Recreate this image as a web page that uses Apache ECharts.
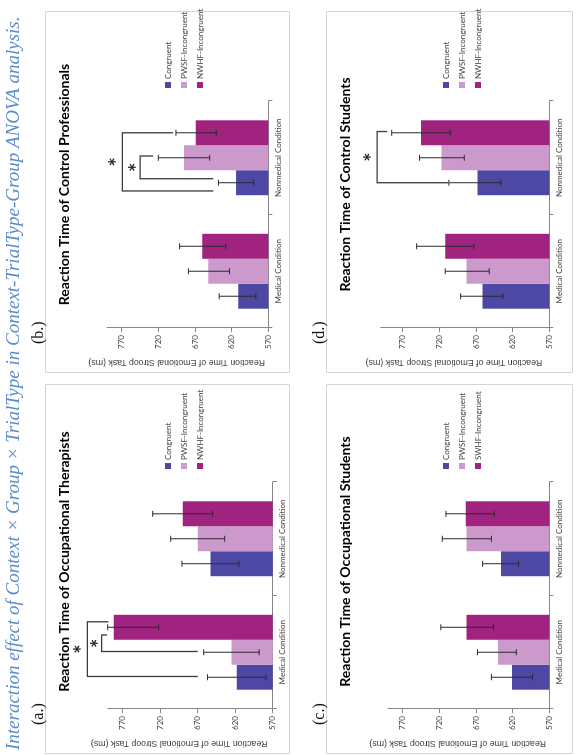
<!DOCTYPE html>
<html><head><meta charset="utf-8">
<script src="https://cdn.jsdelivr.net/npm/echarts@6/dist/echarts.min.js"></script>
<style>
html,body{margin:0;padding:0;background:#fff;overflow:hidden;width:579px;height:755px}
#page{position:absolute;left:0;top:0;width:755px;height:579px;transform-origin:0 0;transform:translate(0px,755px) rotate(-90deg);background:#fff}
</style></head><body><div id="page"></div>
<script>
// ---------------- data ----------------
const categories = ['Medical Condition', 'Nonmedical Condition'];
const namesStd = ['Congruent', 'PWSF-Incongruent', 'NWHF-Incongruent'];
const namesC = ['Congruent', 'PWSF-Incongruent', 'SWHF-Incongruent'];
const valueTicks = [570, 620, 670, 720, 770];
const axisMin = 570;
const axisMax = [790, 790, 790, 800];
const panelTitles = [
  'Reaction Time of Occupational Therapists',
  'Reaction Time of Control Professionals',
  'Reaction Time of Occupational Students',
  'Reaction Time of Control Students'
];
const panelLabels = ['(a.)', '(b.)', '(c.)', '(d.)'];
const yAxisTitle = 'Reaction Time of Emotional Stroop Task (ms)';
const captionText = 'Interaction effect of Context \u00d7 Group \u00d7 TrialType in Context-TrialType-Group ANOVA analysis.';

// (a.) Occupational Therapists
const aCongruent = [618, 653];
const aPwsf = [625, 670];
const aNwhf = [782, 690];
const aCongruentErr = [[579, 657], [615, 691]];
const aPwsfErr = [[588, 662], [634, 706]];
const aNwhfErr = [[722, 790], [650, 730]];
// (b.) Control Professionals
const bCongruent = [611, 614];
const bPwsf = [652, 685];
const bNwhf = [660, 669];
const bCongruentErr = [[587, 637], [590, 638]];
const bPwsfErr = [[623, 679], [650, 720]];
const bNwhfErr = [[628, 691], [641, 696]];
// (c.) Occupational Students
const cCongruent = [621, 636];
const cPwsf = [640, 683];
const cSwhf = [683, 684];
const cCongruentErr = [[593, 649], [612, 661]];
const cPwsfErr = [[615, 668], [649, 716]];
const cSwhfErr = [[646, 718], [645, 711]];
// (d.) Control Students
const dCongruent = [661, 668];
const dPwsf = [683, 717];
const dNwhf = [712, 745];
const dCongruentErr = [[633, 691], [636, 707]];
const dPwsfErr = [[652, 712], [686, 747]];
const dNwhfErr = [[673, 751], [705, 785]];

// significance brackets: [category, barA, offsetA, endA, barB, offsetB, endB, level, starValue]
const aBrackets = [[0, 2, 0.22, 789, 0, 0.03, 670, 817, 828], [0, 2, -0.31, 791, 1, 0.03, 670, 798, 806]];
const bBrackets = [[1, 2, 0.0, 700, 0, -0.33, 645, 769, 780], [1, 1, 0.07, 727, 0, 0.16, 645, 745, 754]];
const cBrackets = [];
const dBrackets = [[1, 2, 0.05, 791, 0, 0.0, 708, 805, 816]];

// ---------------- layout / style ----------------
const COLORS = ['#4e48a5', '#cc99cc', '#a0237f'];
const CAT_GAP = 0.34;
const BOX = [
  {u: 1, v: 45, w: 369, h: 244},
  {u: 382, v: 45, w: 361, h: 244},
  {u: 1, v: 326, w: 369, h: 246},
  {u: 382, v: 326, w: 361, h: 246}
];
// per panel: pixel offset of the 570 baseline from the box top, and px per unit
const PLOT = [
  {bottom: 227.7, scale: 0.75},
  {bottom: 223.3, scale: 0.733},
  {bottom: 223.3, scale: 0.733},
  {bottom: 223.3, scale: 0.733}
];
const GRID_LEFT = 45, GRID_WIDTH = 227;
const FONT = 'Lato, "Open Sans", sans-serif';

const panels = [
  {names: namesStd, means: [aCongruent, aPwsf, aNwhf], errs: [aCongruentErr, aPwsfErr, aNwhfErr], brackets: aBrackets},
  {names: namesStd, means: [bCongruent, bPwsf, bNwhf], errs: [bCongruentErr, bPwsfErr, bNwhfErr], brackets: bBrackets},
  {names: namesC, means: [cCongruent, cPwsf, cSwhf], errs: [cCongruentErr, cPwsfErr, cSwhfErr], brackets: cBrackets},
  {names: namesStd, means: [dCongruent, dPwsf, dNwhf], errs: [dCongruentErr, dPwsfErr, dNwhfErr], brackets: dBrackets}
];

function barCenter(api, cat, idx, off) {
  const band = api.size([1, 0])[0];
  const bw = band * (1 - CAT_GAP) / 3;
  const c = api.coord([cat, axisMin]);
  return c[0] - 1.5 * bw + (idx + 0.5 + (off || 0)) * bw;
}
function renderErr(params, api) {
  const cat = api.value(0), idx = api.value(1);
  const x = barCenter(api, cat, idx, 0);
  const yLo = api.coord([cat, api.value(2)])[1];
  const yHi = api.coord([cat, api.value(3)])[1];
  const cap = 3;
  const st = {stroke: '#2b2b2b', lineWidth: 1};
  return {type: 'group', children: [
    {type: 'line', shape: {x1: x, y1: yLo, x2: x, y2: yHi}, style: st},
    {type: 'line', shape: {x1: x - cap, y1: yLo, x2: x + cap, y2: yLo}, style: st},
    {type: 'line', shape: {x1: x - cap, y1: yHi, x2: x + cap, y2: yHi}, style: st}
  ]};
}
function renderBracket(params, api) {
  const cat = api.value(0);
  const xA = barCenter(api, cat, api.value(1), api.value(2));
  const xB = barCenter(api, cat, api.value(4), api.value(5));
  const yA = api.coord([cat, api.value(3)])[1];
  const yB = api.coord([cat, api.value(6)])[1];
  const yL = api.coord([cat, api.value(7)])[1];
  const yS = api.coord([cat, api.value(8)])[1];
  return {type: 'group', children: [
    {type: 'polyline', shape: {points: [[xA, yA], [xA, yL], [xB, yL], [xB, yB]]},
     style: {stroke: '#3a3a3a', lineWidth: 1.3, fill: null}},
    {type: 'text', x: (xA + xB) / 2, y: yS + 4,
     style: {text: '*', font: 'bold 22px ' + FONT, fill: '#2b2b2b', textAlign: 'center', textVerticalAlign: 'middle'}}
  ]};
}

const grid = [], xAxis = [], yAxis = [], series = [], legend = [], graphic = [];
panels.forEach((p, i) => {
  const b = BOX[i];
  const pl = PLOT[i];
  const h = (axisMax[i] - axisMin) * pl.scale;
  grid.push({left: b.u + GRID_LEFT, top: b.v + pl.bottom - h, width: GRID_WIDTH, height: h, containLabel: false});
  xAxis.push({type: 'category', gridIndex: i, data: categories,
    axisLine: {lineStyle: {color: '#868686', width: 1}},
    axisTick: {show: true, length: 4, alignWithLabel: false, lineStyle: {color: '#868686'}},
    axisLabel: {fontFamily: FONT, fontSize: 8, color: '#404040', margin: 6}});
  yAxis.push({type: 'value', gridIndex: i, min: axisMin, max: axisMax[i], interval: 50,
    name: yAxisTitle, nameLocation: 'middle', nameGap: 30,
    nameTextStyle: {fontFamily: '"Liberation Sans", Arial, sans-serif', fontSize: 8.8, color: '#404040',
      padding: [0, 0, 0, 22]},
    axisLine: {show: true, lineStyle: {color: '#868686', width: 1}},
    axisTick: {show: true, length: 4, customValues: valueTicks, lineStyle: {color: '#868686'}},
    axisLabel: {fontFamily: FONT, fontSize: 8, color: '#404040', margin: 7, customValues: valueTicks},
    splitLine: {show: false}});
  p.names.forEach((n, k) => {
    series.push({type: 'bar', name: n, xAxisIndex: i, yAxisIndex: i, data: p.means[k],
      itemStyle: {color: COLORS[k]}, barGap: '0%', barCategoryGap: (CAT_GAP * 100) + '%',
      emphasis: {disabled: true}, z: 2});
  });
  const errData = [];
  p.errs.forEach((e, k) => e.forEach((r, cat) => errData.push([cat, k, r[0], r[1]])));
  series.push({type: 'custom', xAxisIndex: i, yAxisIndex: i, renderItem: renderErr, data: errData,
    encode: {x: 0, y: [2, 3]}, silent: true, z: 5});
  if (p.brackets.length) {
    series.push({type: 'custom', xAxisIndex: i, yAxisIndex: i, renderItem: renderBracket, data: p.brackets,
      encode: {x: 0, y: 7}, silent: true, clip: false, z: 6});
  }
  legend.push({orient: 'vertical', left: b.u + 285, top: b.v + (i >= 2 ? 116 : 119), padding: 0,
    itemWidth: 6, itemHeight: 6, itemGap: 8, icon: 'rect', selectedMode: false,
    textStyle: {fontFamily: FONT, fontSize: 8, color: '#404040', padding: [0, 0, 0, -2]}, data: p.names});
  graphic.push({type: 'rect', shape: {x: b.u + 0.5, y: b.v + 0.5, width: b.w, height: b.h},
    style: {fill: null, stroke: '#d4d4d4', lineWidth: 1}, silent: true});
  graphic.push({type: 'text', x: b.u + b.w / 2 + 8, y: b.v + 19,
    style: {text: panelTitles[i], font: 'bold 14px ' + FONT, fill: '#000', textAlign: 'center', textVerticalAlign: 'middle'}});
  graphic.push({type: 'text', x: b.u + 29, y: b.v - 6,
    style: {text: panelLabels[i], font: '16px "Liberation Serif", serif', fill: '#111', textAlign: 'left', textVerticalAlign: 'middle'}});
});
graphic.push({type: 'text', x: 5, y: 14,
  style: {text: captionText, font: 'italic 19px "Liberation Serif", serif', fill: '#5b8cc8', textAlign: 'left', textVerticalAlign: 'middle'}});

const chart = echarts.init(document.getElementById('page'), null, {renderer: 'canvas'});
chart.setOption({animation: false, backgroundColor: '#fff', grid, xAxis, yAxis, series, legend, graphic, tooltip: {show: false}});
</script></body></html>
